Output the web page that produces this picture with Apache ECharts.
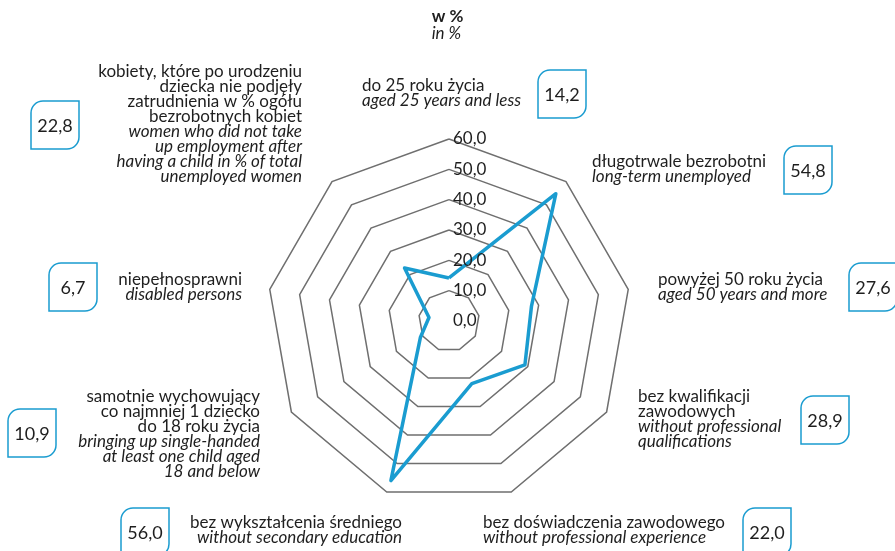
<!DOCTYPE html>
<html>
<head>
<meta charset="utf-8">
<script src="https://cdn.jsdelivr.net/npm/echarts@6/dist/echarts.min.js"></script>
<style>
  html, body { margin: 0; padding: 0; background: #fff; }
  #chart { width: 895px; height: 551px; }
</style>
</head>
<body>
<div id="chart"></div>
<script>
// kolejność zgodna z ruchem wskazówek zegara, od góry
const namesPl = [
  ['do 25 roku życia'],
  ['długotrwale bezrobotni'],
  ['powyżej 50 roku życia'],
  ['bez kwalifikacji', 'zawodowych'],
  ['bez doświadczenia zawodowego'],
  ['bez wykształcenia średniego'],
  ['samotnie wychowujący', 'co najmniej 1 dziecko', 'do 18 roku życia'],
  ['niepełnosprawni'],
  ['kobiety, które po urodzeniu', 'dziecka nie podjęły', 'zatrudnienia w % ogółu', 'bezrobotnych kobiet']
];
const namesEn = [
  ['aged 25 years and less'],
  ['long-term unemployed'],
  ['aged 50 years and more'],
  ['without professional', 'qualifications'],
  ['without professional experience'],
  ['without secondary education'],
  ['bringing up single-handed', 'at least one child aged', '18 and below'],
  ['disabled persons'],
  ['women who did not take', 'up employment after', 'having a child in % of total', 'unemployed women']
];
const values = [14.2, 54.8, 27.6, 28.9, 22.0, 56.0, 10.9, 6.7, 22.8];
const tickValues = [0, 10, 20, 30, 40, 50, 60];

// pozycje opisów: [x tekstu, y pierwszej linii, wyrównanie, x ramki, y ramki]
const layout = [
  [362, 86, 'left', 538, 70],
  [592, 162, 'left', 784, 146],
  [658, 280, 'left', 849, 263],
  [638, 397, 'left', 801, 396],
  [483, 523, 'left', 743, 508],
  [402, 523, 'right', 121, 508],
  [260, 397, 'right', 8, 409],
  [242, 280, 'right', 49, 263],
  [302, 72, 'right', 31, 101]
];

const fmt = (v) => v.toFixed(1).replace('.', ',');
const FONT = 'Lato, "Noto Sans", sans-serif';
const BLUE = '#1a9cd0';
const TXT = '#1e1e1e';
const LH = 15;

// radar w echarts idzie przeciwnie do wskazówek zegara
const order = [0, 8, 7, 6, 5, 4, 3, 2, 1];

const graphics = [
  {
    type: 'text', left: 'center', top: 8,
    style: {
      text: '{b|w %}\n{i|in %}',
      align: 'center',
      rich: {
        b: { fontFamily: FONT, fontSize: 17, fontWeight: 'bold', fill: TXT, lineHeight: 17 },
        i: { fontFamily: FONT, fontSize: 17, fontStyle: 'italic', fill: TXT, lineHeight: 17 }
      }
    }
  }
];
layout.forEach(([tx, ty, align, bx, by], i) => {
  const lines = namesPl[i].map((s) => '{p|' + s + '}')
    .concat(namesEn[i].map((s) => '{e|' + s + '}'));
  graphics.push({
    type: 'text', x: tx, y: ty - LH / 2,
    style: {
      text: lines.join('\n'),
      align: align,
      verticalAlign: 'top',
      rich: {
        p: { fontFamily: FONT, fontSize: 17, fill: TXT, lineHeight: LH, align: align },
        e: { fontFamily: FONT, fontSize: 17, fontStyle: 'italic', fill: TXT, lineHeight: LH, align: align }
      }
    }
  });
  graphics.push({
    type: 'rect', x: bx, y: by,
    shape: { width: 48, height: 48, r: [12, 0, 12, 0] },
    style: { fill: '#fff', stroke: BLUE, lineWidth: 1.5 }
  });
  graphics.push({
    type: 'text', x: bx + 24, y: by + 25,
    style: {
      text: fmt(values[i]),
      align: 'center', verticalAlign: 'middle',
      fontFamily: FONT, fontSize: 18, fill: TXT
    }
  });
});

const chart = echarts.init(document.getElementById('chart'));
chart.setOption({
  animation: false,
  radar: {
    center: [449, 321],
    radius: 182,
    startAngle: 90,
    shape: 'polygon',
    splitNumber: 6,
    indicator: order.map((i) => ({ name: namesPl[i][0], min: tickValues[0], max: tickValues[tickValues.length - 1] })),
    axisName: { show: false },
    axisLine: { show: false },
    axisTick: { show: false },
    splitArea: { show: false },
    splitLine: { lineStyle: { color: '#6f6f6f', width: 1.5 } }
  },
  polar: { center: [449, 321], radius: 182 },
  angleAxis: { show: false, startAngle: 90, min: 0, max: 360 },
  radiusAxis: {
    min: tickValues[0],
    max: tickValues[tickValues.length - 1],
    interval: 10,
    axisLine: { show: false },
    axisTick: { show: false },
    splitLine: { show: false },
    axisLabel: {
      formatter: (v) => fmt(v),
      fontFamily: FONT, fontSize: 17, color: TXT,
      align: 'left', verticalAlign: 'middle', margin: -4,
      padding: [7, 0, 0, 0]
    },
    z: 10
  },
  series: [{
    type: 'radar',
    symbol: 'none',
    lineStyle: { color: BLUE, width: 3.5 },
    data: [{ value: order.map((i) => values[i]) }]
  }],
  graphic: graphics
});
</script>
</body>
</html>
